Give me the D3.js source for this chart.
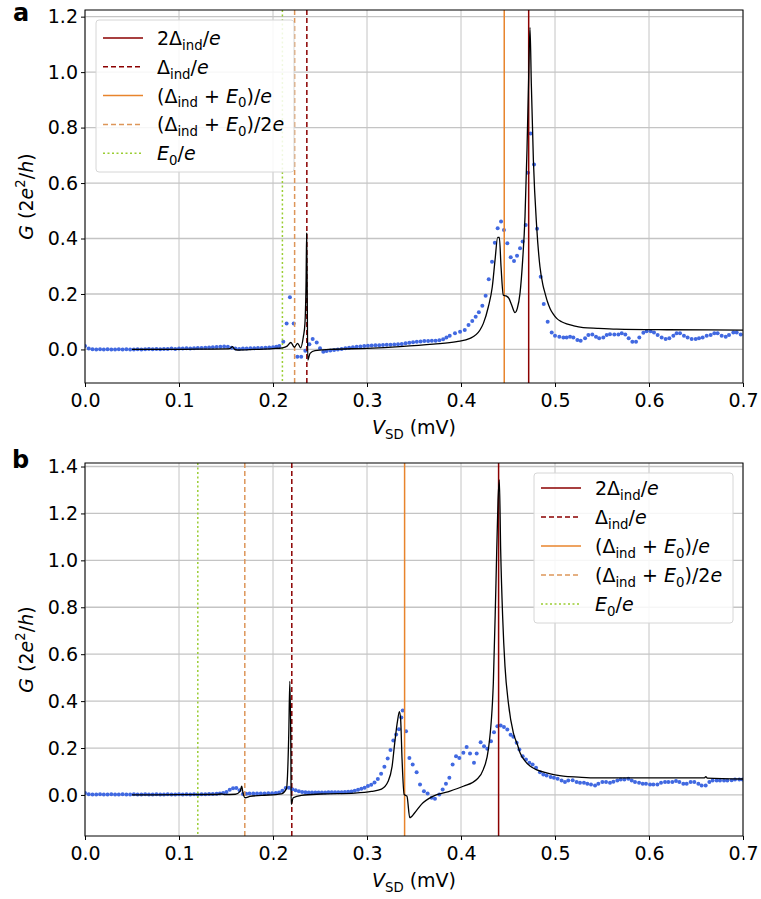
<!DOCTYPE html>
<html>
<head>
<meta charset="utf-8">
<script src="https://cdn.jsdelivr.net/npm/d3@7"></script>
<style>
  body { margin: 0; background: #fff; }
  text { font-family: "DejaVu Sans", sans-serif; white-space: pre; }
</style>
</head>
<body>
<script>
// ---- data (V_SD in mV, G in 2e^2/h) ----
var xTicks = [0, 0.1, 0.2, 0.3, 0.4, 0.5, 0.6, 0.7];
var yTicksA = [0, 0.2, 0.4, 0.6, 0.8, 1.0, 1.2];
var yTicksB = [0, 0.2, 0.4, 0.6, 0.8, 1.0, 1.2, 1.4];

// reference energies: 2D/e, D/e, (D+E0)/e, (D+E0)/2e, E0/e
var markersA = [0.472, 0.236, 0.446, 0.223, 0.210];
var markersB = [0.440, 0.220, 0.340, 0.170, 0.120];

var expA = [[0.000,0.012],[0.004,0.003],[0.008,0.001],[0.012,0.000],[0.016,0.001],[0.020,0.000],[0.024,0.001],[0.028,0.000],[0.032,0.000],[0.036,0.001],[0.040,0.000],[0.044,0.001],[0.048,0.000],[0.052,0.000],[0.056,0.001],[0.060,0.000],[0.064,0.001],[0.068,0.002],[0.072,0.001],[0.076,0.002],[0.080,0.001],[0.084,0.002],[0.088,0.002],[0.092,0.003],[0.096,0.002],[0.100,0.003],[0.104,0.003],[0.108,0.004],[0.112,0.003],[0.116,0.004],[0.120,0.005],[0.124,0.005],[0.128,0.006],[0.132,0.007],[0.136,0.008],[0.140,0.009],[0.144,0.010],[0.148,0.011],[0.152,0.010],[0.156,0.006],[0.160,0.003],[0.164,0.002],[0.168,0.003],[0.172,0.003],[0.176,0.004],[0.180,0.004],[0.184,0.005],[0.188,0.005],[0.192,0.006],[0.196,0.007],[0.200,0.008],[0.2035,0.010],[0.2067,0.012],[0.211,0.028],[0.2145,0.094],[0.218,0.188],[0.222,0.094],[0.2259,-0.026],[0.230,-0.026],[0.2344,-0.005],[0.2387,0.019],[0.2422,0.038],[0.2465,0.025],[0.250,0.004],[0.2535,-0.008],[0.257,-0.006],[0.261,-0.004],[0.265,-0.002],[0.269,0.000],[0.273,0.002],[0.277,0.004],[0.281,0.006],[0.285,0.008],[0.289,0.010],[0.293,0.011],[0.297,0.012],[0.301,0.013],[0.305,0.014],[0.309,0.015],[0.313,0.015],[0.317,0.016],[0.321,0.017],[0.325,0.017],[0.329,0.018],[0.333,0.019],[0.337,0.020],[0.341,0.022],[0.345,0.024],[0.349,0.026],[0.353,0.028],[0.357,0.029],[0.361,0.030],[0.365,0.030],[0.369,0.031],[0.373,0.031],[0.377,0.033],[0.381,0.037],[0.3845,0.043],[0.388,0.049],[0.3936,0.058],[0.399,0.064],[0.404,0.070],[0.408,0.088],[0.412,0.103],[0.4156,0.118],[0.419,0.134],[0.4227,0.158],[0.4262,0.194],[0.4295,0.253],[0.433,0.316],[0.436,0.385],[0.439,0.437],[0.4426,0.461],[0.4457,0.431],[0.4493,0.383],[0.4529,0.332],[0.4564,0.319],[0.4596,0.338],[0.4628,0.365],[0.4656,0.389],[0.4688,0.449],[0.4713,0.637],[0.474,0.779],[0.4777,0.667],[0.4809,0.435],[0.4848,0.262],[0.488,0.164],[0.4922,0.100],[0.4965,0.061],[0.500,0.049],[0.5046,0.046],[0.5089,0.043],[0.5124,0.043],[0.516,0.046],[0.5195,0.043],[0.5238,0.034],[0.5273,0.031],[0.532,0.040],[0.5355,0.052],[0.5397,0.054],[0.5436,0.046],[0.547,0.040],[0.5514,0.043],[0.555,0.052],[0.5585,0.055],[0.5631,0.054],[0.5674,0.054],[0.571,0.058],[0.5748,0.054],[0.5784,0.040],[0.5823,0.028],[0.5862,0.028],[0.5897,0.043],[0.594,0.060],[0.5975,0.066],[0.6018,0.066],[0.6053,0.061],[0.6092,0.052],[0.6135,0.043],[0.6177,0.038],[0.6216,0.040],[0.6259,0.049],[0.6294,0.058],[0.633,0.058],[0.6372,0.049],[0.6411,0.043],[0.6454,0.038],[0.6497,0.038],[0.6532,0.040],[0.6571,0.043],[0.6614,0.049],[0.6656,0.052],[0.6695,0.058],[0.673,0.058],[0.6773,0.049],[0.6816,0.046],[0.6851,0.052],[0.6897,0.061],[0.6933,0.061],[0.6976,0.054]];

var theoryA = [[0.050,0.000],[0.080,0.000],[0.120,0.001],[0.150,0.002],[0.154,0.003],[0.157,0.010],[0.159,0.001],[0.162,-0.002],[0.180,0.000],[0.200,0.003],[0.210,0.006],[0.215,0.012],[0.219,0.025],[0.2227,0.008],[0.2262,0.022],[0.2294,0.006],[0.2323,0.046],[0.234,0.094],[0.2352,0.250],[0.2358,0.419],[0.2364,0.200],[0.237,-0.038],[0.2394,-0.014],[0.2447,-0.004],[0.260,0.000],[0.300,0.004],[0.335,0.010],[0.3706,0.019],[0.3954,0.028],[0.4096,0.040],[0.4202,0.070],[0.4238,0.094],[0.4291,0.154],[0.4333,0.226],[0.4362,0.322],[0.439,0.404],[0.4408,0.404],[0.4426,0.298],[0.445,0.196],[0.4479,0.193],[0.451,0.184],[0.4539,0.160],[0.4574,0.133],[0.4599,0.148],[0.4628,0.203],[0.4656,0.322],[0.4681,0.479],[0.4702,0.719],[0.472,0.983],[0.4734,1.161],[0.4748,0.959],[0.477,0.683],[0.4805,0.443],[0.484,0.298],[0.487,0.235],[0.4894,0.203],[0.492,0.172],[0.4947,0.148],[0.498,0.128],[0.5018,0.112],[0.507,0.100],[0.5124,0.092],[0.520,0.085],[0.530,0.079],[0.545,0.076],[0.5656,0.073],[0.6188,0.071],[0.700,0.070]];

var expB = [[0.000,0.008],[0.004,0.003],[0.008,0.002],[0.012,0.002],[0.016,0.003],[0.020,0.002],[0.024,0.002],[0.028,0.003],[0.032,0.002],[0.036,0.002],[0.040,0.003],[0.044,0.002],[0.048,0.002],[0.052,0.003],[0.056,0.002],[0.060,0.002],[0.064,0.003],[0.068,0.002],[0.072,0.002],[0.076,0.003],[0.080,0.002],[0.084,0.002],[0.088,0.003],[0.092,0.002],[0.096,0.002],[0.100,0.003],[0.104,0.002],[0.108,0.003],[0.112,0.002],[0.116,0.003],[0.120,0.002],[0.124,0.003],[0.128,0.003],[0.132,0.004],[0.136,0.004],[0.140,0.005],[0.1435,0.006],[0.147,0.008],[0.1505,0.013],[0.154,0.022],[0.1575,0.029],[0.161,0.030],[0.1645,0.020],[0.168,0.004],[0.1715,0.005],[0.175,0.006],[0.179,0.006],[0.183,0.006],[0.187,0.006],[0.191,0.006],[0.195,0.007],[0.199,0.007],[0.203,0.008],[0.2065,0.010],[0.210,0.018],[0.2135,0.030],[0.217,0.031],[0.2205,0.024],[0.224,0.020],[0.2275,0.016],[0.231,0.013],[0.2345,0.011],[0.238,0.010],[0.2415,0.010],[0.245,0.010],[0.2485,0.010],[0.252,0.010],[0.2555,0.010],[0.259,0.011],[0.2625,0.011],[0.266,0.011],[0.2695,0.012],[0.273,0.012],[0.2765,0.013],[0.280,0.014],[0.2835,0.015],[0.287,0.018],[0.2905,0.022],[0.294,0.026],[0.2975,0.031],[0.301,0.038],[0.3045,0.043],[0.308,0.053],[0.3115,0.068],[0.315,0.090],[0.3185,0.120],[0.322,0.155],[0.325,0.192],[0.328,0.232],[0.331,0.258],[0.334,0.280],[0.3365,0.330],[0.338,0.360],[0.3415,0.272],[0.3451,0.158],[0.3486,0.130],[0.3528,0.097],[0.3564,0.045],[0.3606,0.016],[0.3645,0.006],[0.3688,-0.012],[0.3723,-0.016],[0.3769,0.002],[0.3805,0.023],[0.384,0.048],[0.3876,0.073],[0.3911,0.130],[0.3947,0.165],[0.3982,0.158],[0.4025,0.180],[0.406,0.204],[0.4096,0.177],[0.4138,0.137],[0.4167,0.177],[0.4209,0.225],[0.4245,0.208],[0.428,0.197],[0.4319,0.229],[0.4351,0.267],[0.4387,0.293],[0.4422,0.296],[0.4457,0.290],[0.4493,0.279],[0.4528,0.257],[0.4557,0.248],[0.4592,0.222],[0.4621,0.194],[0.4656,0.165],[0.4691,0.151],[0.4727,0.137],[0.4762,0.130],[0.4798,0.116],[0.484,0.097],[0.4876,0.087],[0.4911,0.083],[0.4954,0.077],[0.4989,0.073],[0.5028,0.069],[0.507,0.062],[0.5106,0.055],[0.5141,0.062],[0.5188,0.063],[0.523,0.055],[0.5266,0.052],[0.5308,0.052],[0.5344,0.048],[0.5383,0.045],[0.5426,0.040],[0.5461,0.048],[0.5504,0.055],[0.5543,0.055],[0.5585,0.052],[0.5621,0.056],[0.5663,0.062],[0.5699,0.066],[0.5738,0.066],[0.578,0.069],[0.5816,0.062],[0.5851,0.055],[0.5894,0.052],[0.5933,0.048],[0.5968,0.048],[0.6011,0.045],[0.6046,0.045],[0.6089,0.045],[0.6128,0.052],[0.617,0.055],[0.6206,0.055],[0.6248,0.055],[0.6287,0.059],[0.6323,0.055],[0.6365,0.048],[0.6401,0.048],[0.6443,0.055],[0.6482,0.055],[0.6525,0.048],[0.656,0.040],[0.6603,0.040],[0.6642,0.055],[0.6677,0.062],[0.672,0.062],[0.6755,0.062],[0.6798,0.062],[0.6833,0.062],[0.6879,0.063],[0.6915,0.066],[0.6961,0.066],[0.6996,0.066]];

var theoryB = [[0.050,0.000],[0.100,0.001],[0.140,0.002],[0.145,0.004],[0.148,0.002],[0.160,0.003],[0.165,0.015],[0.1667,0.037],[0.168,0.010],[0.1702,-0.012],[0.1755,-0.006],[0.1879,-0.002],[0.209,0.005],[0.2144,0.028],[0.2154,0.080],[0.2168,0.265],[0.2179,0.484],[0.219,0.194],[0.2193,-0.040],[0.2215,-0.012],[0.2303,-0.002],[0.2516,0.004],[0.287,0.008],[0.3047,0.015],[0.3154,0.025],[0.3225,0.058],[0.3267,0.122],[0.3295,0.222],[0.3324,0.314],[0.3345,0.355],[0.3358,0.321],[0.3373,0.151],[0.3395,0.002],[0.3425,-0.005],[0.3455,-0.097],[0.3508,-0.076],[0.3579,-0.040],[0.3706,-0.005],[0.3848,0.012],[0.4025,0.037],[0.4167,0.066],[0.4238,0.109],[0.4291,0.194],[0.4344,0.477],[0.4372,0.903],[0.4394,1.257],[0.4408,1.343],[0.4422,1.045],[0.4443,0.761],[0.4468,0.548],[0.4504,0.392],[0.4557,0.265],[0.460,0.215],[0.4628,0.180],[0.468,0.145],[0.4734,0.123],[0.480,0.108],[0.4911,0.094],[0.500,0.086],[0.5088,0.080],[0.525,0.076],[0.5443,0.073],[0.5975,0.073],[0.659,0.073],[0.6605,0.078],[0.662,0.072],[0.700,0.068]];

// legend labels as [text, style] runs
var legendLabels = [
  [["2Δ"],["ind","sub"],["/"],["e","i"]],
  [["Δ"],["ind","sub"],["/"],["e","i"]],
  [["(Δ"],["ind","sub"],[" + "],["E","i"],["0","sub"],[")/"],["e","i"]],
  [["(Δ"],["ind","sub"],[" + "],["E","i"],["0","sub"],[")/2"],["e","i"]],
  [["E","i"],["0","sub"],["/"],["e","i"]]
];
var markerStyles = [
  {color: "#8b0000", dash: null},
  {color: "#8b0000", dash: "5,3"},
  {color: "#e8842c", dash: null},
  {color: "#dd9659", dash: "5,3"},
  {color: "#9acd32", dash: "2,2.5"}
];

var W = 761, H = 899, FS = 19;
var svg = d3.select("body").append("svg").attr("width", W).attr("height", H);

function rich(sel, parts, size) {
  var shift = 0;
  parts.forEach(function(p) {
    var ts = sel.append("tspan").text(p[0]);
    var target = 0;
    if (p[1] === "sub") { target = size * 0.25; ts.attr("font-size", size * 0.7); }
    if (p[1] === "sup") { target = -size * 0.4; ts.attr("font-size", size * 0.7); }
    if (p[1] === "i") ts.attr("font-style", "italic");
    ts.attr("dy", target - shift);
    shift = target;
  });
}

function drawPanel(cfg) {
  var x = d3.scaleLinear().domain([0, 0.7]).range([cfg.left, cfg.right]);
  var y = d3.scaleLinear().domain(cfg.yDomain).range([cfg.bottom, cfg.top]);
  var g = svg.append("g");

  var clipId = "clip" + cfg.name;
  svg.append("clipPath").attr("id", clipId).append("rect")
    .attr("x", cfg.left).attr("y", cfg.top)
    .attr("width", cfg.right - cfg.left).attr("height", cfg.bottom - cfg.top);

  // grid
  g.selectAll(".gx").data(xTicks).enter().append("line")
    .attr("x1", d => x(d)).attr("x2", d => x(d))
    .attr("y1", cfg.top).attr("y2", cfg.bottom)
    .attr("stroke", "#c4c4c4").attr("stroke-width", 1);
  g.selectAll(".gy").data(cfg.yTicks).enter().append("line")
    .attr("x1", cfg.left).attr("x2", cfg.right)
    .attr("y1", d => y(d)).attr("y2", d => y(d))
    .attr("stroke", "#c4c4c4").attr("stroke-width", 1.3);

  var plot = g.append("g").attr("clip-path", "url(#" + clipId + ")");

  // experiment dots
  plot.selectAll(".dot").data(cfg.exp).enter().append("circle")
    .attr("cx", d => x(d[0])).attr("cy", d => y(d[1])).attr("r", 2)
    .attr("fill", "#4169e1");

  // reference lines
  plot.selectAll(".vl").data(cfg.markers).enter().append("line")
    .attr("x1", d => x(d)).attr("x2", d => x(d))
    .attr("y1", cfg.top).attr("y2", cfg.bottom)
    .attr("stroke", (d, i) => markerStyles[i].color)
    .attr("stroke-width", 1.5)
    .attr("stroke-dasharray", (d, i) => markerStyles[i].dash);

  // theory
  plot.append("path").datum(cfg.theory)
    .attr("d", d3.line().curve(d3.curveMonotoneX).x(d => x(d[0])).y(d => y(d[1])))
    .attr("fill", "none").attr("stroke", "#000").attr("stroke-width", 1.3)
    .attr("stroke-linejoin", "round");

  // frame
  g.append("rect").attr("x", cfg.left).attr("y", cfg.top)
    .attr("width", cfg.right - cfg.left).attr("height", cfg.bottom - cfg.top)
    .attr("fill", "none").attr("stroke", "#000").attr("stroke-width", 1);

  // axes
  var ax = g.append("g").attr("transform", "translate(0," + cfg.bottom + ")")
    .call(d3.axisBottom(x).tickValues(xTicks).tickFormat(d3.format(".1f"))
      .tickSize(4).tickPadding(7));
  var ay = g.append("g").attr("transform", "translate(" + cfg.left + ",0)")
    .call(d3.axisLeft(y).tickValues(cfg.yTicks).tickFormat(d3.format(".1f"))
      .tickSize(4).tickPadding(3));
  [ax, ay].forEach(function(a) {
    a.select(".domain").remove();
    a.selectAll("text").attr("font-size", FS).attr("fill", "#000")
      .attr("font-family", "DejaVu Sans");
    a.selectAll("line").attr("stroke", "#000");
  });

  // axis labels
  var xl = g.append("text").attr("x", (cfg.left + cfg.right) / 2)
    .attr("y", cfg.bottom + 51).attr("text-anchor", "middle").attr("font-size", FS);
  rich(xl, [["V","i"],["SD","sub"],[" (mV)"]], FS);

  var yl = g.append("text")
    .attr("transform", "translate(33," + ((cfg.top + cfg.bottom) / 2) + ") rotate(-90)")
    .attr("text-anchor", "middle").attr("font-size", FS);
  rich(yl, [["G","i"],[" (2"],["e","i"],["2","sup"],["/"],["h","i"],[")"]], FS);

  // panel letter
  g.append("text").attr("x", cfg.letterX).attr("y", cfg.letterY)
    .attr("font-size", 24).attr("font-weight", "bold").text(cfg.name);

  // legend
  var L = cfg.legend;
  g.append("rect").attr("x", L.x).attr("y", L.y).attr("width", L.w).attr("height", L.h)
    .attr("rx", 3).attr("fill", "#fff").attr("fill-opacity", 0.85)
    .attr("stroke", "#d6d6d6").attr("stroke-width", 1);
  legendLabels.forEach(function(lab, i) {
    var cy = L.y + L.first + i * L.step;
    g.append("line").attr("x1", L.x + 7).attr("x2", L.x + 47)
      .attr("y1", cy).attr("y2", cy)
      .attr("stroke", markerStyles[i].color).attr("stroke-width", 1.5)
      .attr("stroke-dasharray", markerStyles[i].dash);
    var t = g.append("text").attr("x", L.x + 61).attr("y", cy + 7).attr("font-size", FS);
    rich(t, lab, FS);
  });
}

drawPanel({
  name: "a", left: 85, right: 743, top: 10, bottom: 383,
  yDomain: [-0.121, 1.224], yTicks: yTicksA,
  exp: expA, theory: theoryA, markers: markersA,
  letterX: 13, letterY: 21,
  legend: {x: 96, y: 20, w: 198, h: 152, first: 18, step: 28.8}
});

drawPanel({
  name: "b", left: 85, right: 743, top: 463, bottom: 836,
  yDomain: [-0.175, 1.415], yTicks: yTicksB,
  exp: expB, theory: theoryB, markers: markersB,
  letterX: 12, letterY: 468,
  legend: {x: 534, y: 473, w: 199, h: 150, first: 15, step: 29}
});
</script>
</body>
</html>
